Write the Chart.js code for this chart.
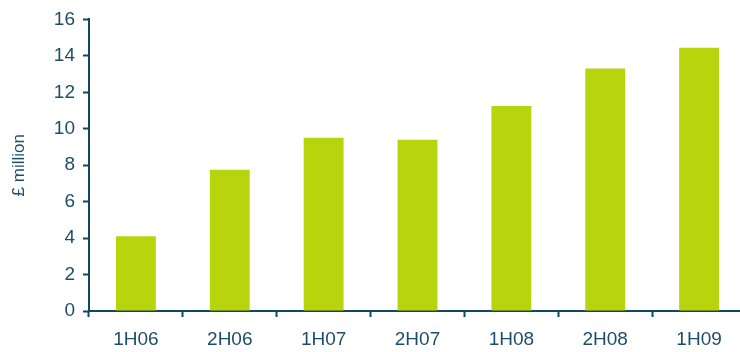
<!DOCTYPE html>
<html>
<head>
<meta charset="utf-8">
<script src="https://cdn.jsdelivr.net/npm/chart.js@4"></script>
<style>
  html, body { margin: 0; padding: 0; background: #fff; overflow: hidden; }
  #wrap { width: 750px; height: 352px; }
</style>
</head>
<body>
<div id="wrap"><canvas id="chart" width="750" height="352"></canvas></div>
<script>
const categories = ['1H06', '2H06', '1H07', '2H07', '1H08', '2H08', '1H09'];
const revenue = [4.1, 7.75, 9.5, 9.4, 11.25, 13.3, 14.45];
const yTicks = [0, 2, 4, 6, 8, 10, 12, 14, 16];

const axisColor = '#11475f';
const textColor = '#1d4d68';
const font = { family: '"Liberation Sans", Arial, sans-serif', size: 19 };

new Chart(document.getElementById('chart'), {
  type: 'bar',
  data: {
    labels: categories,
    datasets: [{
      label: '£ million',
      data: revenue,
      backgroundColor: '#b8d40c',
      borderWidth: 0,
      barPercentage: 1,
      categoryPercentage: 0.425,
    }],
  },
  options: {
    responsive: false,
    animation: false,
    layout: { padding: { top: 19, right: 4, left: 0, bottom: 0 } },
    plugins: { legend: { display: false }, tooltip: { enabled: false } },
    scales: {
      x: {
        offset: true,
        grid: { offset: true, drawOnChartArea: false, tickLength: 6, tickColor: axisColor, tickWidth: 2 },
        border: { color: axisColor, width: 2 },
        ticks: { color: textColor, font: font, padding: 11, maxRotation: 0 },
        afterFit: (scale) => { scale.height = 41; },
      },
      y: {
        min: 0,
        max: 16,
        afterBuildTicks: (scale) => { scale.ticks = yTicks.map((v) => ({ value: v })); },
        grid: { drawOnChartArea: false, tickLength: 6, tickColor: axisColor, tickWidth: 2 },
        border: { color: axisColor, width: 2 },
        ticks: { color: textColor, font: font, padding: 8 },
        title: {
          display: true,
          text: '£ million',
          color: textColor,
          font: { family: font.family, size: 17 },
          padding: { top: 9, bottom: 8 },
        },
        afterFit: (scale) => { scale.width = 89; },
      },
    },
  },
});
</script>
</body>
</html>
